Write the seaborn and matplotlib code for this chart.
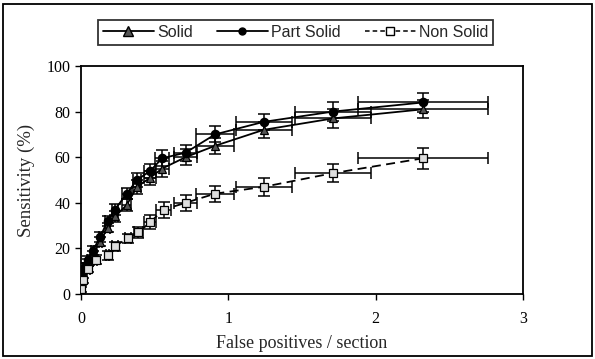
import matplotlib
matplotlib.use("Agg")
import numpy as np
import pandas as pd
import seaborn as sns
import matplotlib.pyplot as plt
from matplotlib.lines import Line2D
from matplotlib.patches import Rectangle

# FROC values
solid_x = [0.0, 0.01, 0.03, 0.05, 0.08, 0.13, 0.18, 0.23, 0.31, 0.38, 0.47, 0.55, 0.71, 0.91, 1.24, 1.71, 2.32]
solid_y = [5, 8, 12, 14, 17, 23, 29, 34, 39, 47, 51, 55, 60, 65, 72, 77, 81]
solid_xerr = [0, 0, 0.005, 0.01, 0.01, 0.01, 0.02, 0.02, 0.03, 0.03, 0.04, 0.05, 0.08, 0.13, 0.19, 0.26, 0.44]
solid_yerr = [1, 1, 1.5, 1.5, 2, 2, 2, 2.5, 2.5, 3, 3, 3.5, 3.5, 3.5, 3.5, 4, 4]

part_x = [0.0, 0.01, 0.03, 0.05, 0.08, 0.13, 0.18, 0.23, 0.31, 0.38, 0.47, 0.55, 0.71, 0.91, 1.24, 1.71, 2.32]
part_y = [6, 9, 12, 15, 19, 25, 32, 37, 44, 50, 54, 59.5, 62, 70, 75.5, 80, 84]
part_xerr = [0, 0, 0.005, 0.01, 0.01, 0.01, 0.02, 0.02, 0.03, 0.03, 0.04, 0.05, 0.08, 0.13, 0.19, 0.26, 0.44]
part_yerr = [1, 1, 1.5, 1.5, 2, 2, 2, 2.5, 2.5, 3, 3, 3.5, 3.5, 3.5, 3.5, 4, 4]

non_x = [0.0, 0.015, 0.05, 0.1, 0.18, 0.23, 0.32, 0.39, 0.47, 0.56, 0.71, 0.91, 1.24, 1.71, 2.32]
non_y = [2, 6, 11, 15, 17, 21, 24.5, 27, 31.5, 37, 40, 44, 47, 53, 59.5]
non_xerr = [0, 0, 0.01, 0.01, 0.01, 0.02, 0.02, 0.03, 0.04, 0.05, 0.08, 0.13, 0.19, 0.26, 0.44]
non_yerr = [1, 1, 1.5, 2, 2, 2, 2, 2.5, 3, 3.5, 3.5, 3.5, 4, 4, 4.5]

sns.set_style("ticks")
plt.rcParams["font.family"] = ["Liberation Serif", "DejaVu Serif"]

df = pd.concat([
    pd.DataFrame({"fp": solid_x, "sens": solid_y, "type": "Solid"}),
    pd.DataFrame({"fp": part_x, "sens": part_y, "type": "Part Solid"}),
    pd.DataFrame({"fp": non_x, "sens": non_y, "type": "Non Solid"}),
], ignore_index=True)

fig = plt.figure(figsize=(5.95, 3.59), dpi=100)
ax = fig.add_axes([81 / 595, 65 / 359, 442 / 595, 228 / 359])

# error bars first so the markers sit on top
for xs, ys, xe, ye in [(solid_x, solid_y, solid_xerr, solid_yerr),
                       (part_x, part_y, part_xerr, part_yerr),
                       (non_x, non_y, non_xerr, non_yerr)]:
    ax.errorbar(xs, ys, xerr=xe, yerr=ye, fmt="none", ecolor="black",
                elinewidth=1.1, capsize=4, capthick=1.1, zorder=2)

styles = {
    "Solid": dict(marker="^", ls="-", mfc="#555555"),
    "Part Solid": dict(marker="o", ls="-", mfc="black"),
    "Non Solid": dict(marker="s", ls=(0, (5, 3)), mfc="#dddddd"),
}
for name, st in styles.items():
    sub = df[df["type"] == name]
    sns.lineplot(data=sub, x="fp", y="sens", ax=ax, color="black", lw=1.3,
                 linestyle=st["ls"], marker=st["marker"], markersize=6,
                 markerfacecolor=st["mfc"], markeredgecolor="black",
                 markeredgewidth=0.9, sort=False, estimator=None,
                 legend=False, zorder=3)

ax.set_xlim(0, 3)
ax.set_ylim(0, 100)
ax.set_xticks([0, 1, 2, 3])
ax.set_yticks([0, 20, 40, 60, 80, 100])
ax.tick_params(direction="out", length=4, width=1, labelsize=11.5, colors="black")
ax.tick_params(axis="x", pad=8)
for sp in ax.spines.values():
    sp.set_visible(True)
    sp.set_color("black")
    sp.set_linewidth(1.3)
ax.set_xlabel("False positives / section", fontsize=13, labelpad=6)
ax.set_ylabel("Sensitivity (%)", fontsize=13.5, labelpad=8)

handles = [
    Line2D([], [], color="black", lw=1.3, marker="^", mfc="#555555", mec="black", ms=7),
    Line2D([], [], color="black", lw=1.3, marker="o", mfc="black", mec="black", ms=5),
    Line2D([], [], color="black", lw=1.1, ls=(0, (3, 2)), marker="s", mfc="white", mec="black", ms=6),
]
leg = fig.legend(handles, ["Solid", "Part Solid", "Non Solid"], ncol=3,
                 loc="upper center", bbox_to_anchor=(0.497, 0.966),
                 frameon=True, fancybox=False, edgecolor="black",
                 handlelength=3.2, handletextpad=0.2, columnspacing=1.5,
                 borderpad=0.3, prop={"family": "Liberation Sans", "size": 11.5})
leg.get_frame().set_linewidth(1.3)

# outer frame around the whole figure
fig.patches.append(Rectangle((3 / 595, 3 / 359), 589 / 595, 352 / 359,
                             transform=fig.transFigure, fill=False,
                             edgecolor="black", lw=1.3))

fig.savefig("out.png", dpi=100)
